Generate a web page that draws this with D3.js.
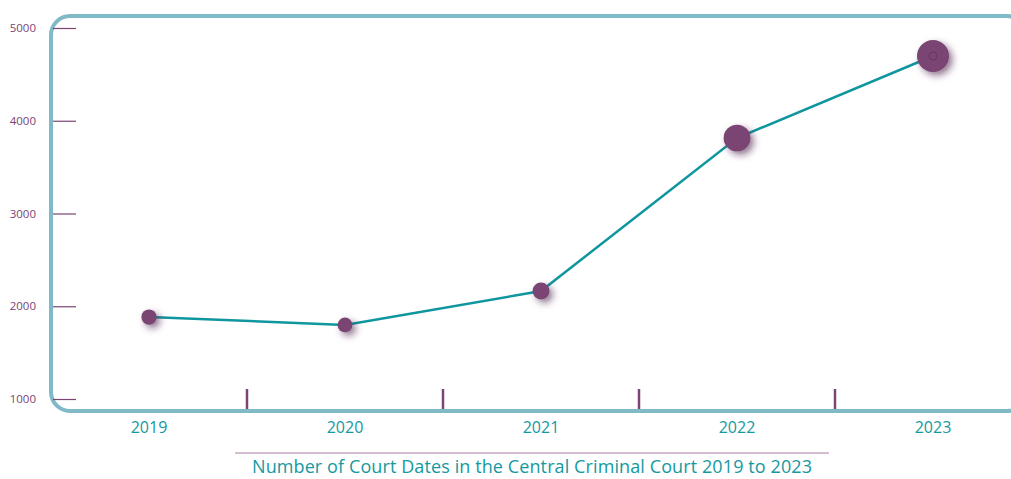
<!DOCTYPE html>
<html>
<head>
<meta charset="utf-8">
<script src="https://cdn.jsdelivr.net/npm/d3@7"></script>
<style>
  body { margin: 0; background: #fff; }
  svg { display: block; font-family: "Open Sans", sans-serif; }
</style>
</head>
<body>
<div id="chart"></div>
<script>
// data
const years = ["2019", "2020", "2021", "2022", "2023"];
const courtDates = [1884, 1798, 2164, 3814, 4698];
const yTicks = [1000, 2000, 3000, 4000, 5000];

const width = 1011, height = 479;
const purple = "#7b4473", teal = "#14999f", frame = "#7fbac6";

const svg = d3.select("#chart").append("svg")
    .attr("width", width)
    .attr("height", height);

const defs = svg.append("defs");
const f = defs.append("filter").attr("id", "shadow")
    .attr("x", "-80%").attr("y", "-80%").attr("width", "260%").attr("height", "260%");
f.append("feDropShadow")
    .attr("dx", 3.5).attr("dy", 3.5).attr("stdDeviation", 3.5)
    .attr("flood-color", "#4a2046").attr("flood-opacity", 0.6);

const xscale = d3.scaleBand()
    .domain(years)
    .range([51, 1031]);

const yscale = d3.scaleLinear()
    .domain([1000, 5000])
    .range([399, 28]);

const rscale = d3.scaleLinear()
    .domain([1000, d3.max(courtDates)])
    .range([5, 16]);

// frame
svg.append("rect")
    .attr("x", 51).attr("y", 16)
    .attr("width", 975).attr("height", 395)
    .attr("rx", 19)
    .attr("fill", "none")
    .attr("stroke", frame)
    .attr("stroke-width", 4);

// y axis
const yAxis = svg.append("g")
    .attr("transform", "translate(53,0)")
    .call(d3.axisRight(yscale).tickValues(yTicks).tickSize(23).tickFormat(d => d));
yAxis.select(".domain").remove();
yAxis.selectAll(".tick line").attr("stroke", purple).attr("stroke-width", 1.2);
yAxis.selectAll(".tick text")
    .attr("x", -17)
    .attr("text-anchor", "end")
    .attr("fill", purple)
    .attr("font-size", "11.5px")
    .attr("font-family", "Open Sans, sans-serif");

// x axis
const xAxis = svg.append("g")
    .attr("transform", "translate(0,409)")
    .call(d3.axisBottom(xscale).tickSize(0).tickPadding(13));
xAxis.select(".domain").remove();
xAxis.selectAll(".tick text")
    .attr("fill", teal)
    .attr("font-size", "16px")
    .attr("font-family", "Open Sans, sans-serif");

// separators between years
svg.append("g").selectAll("line")
    .data(years.slice(1))
    .join("line")
    .attr("x1", d => xscale(d)).attr("x2", d => xscale(d))
    .attr("y1", 389).attr("y2", 409)
    .attr("stroke", purple)
    .attr("stroke-width", 2.5);

// line
const line = d3.line()
    .x((d, i) => xscale(years[i]) + xscale.bandwidth() / 2)
    .y(d => yscale(d));

svg.append("path")
    .datum(courtDates)
    .attr("d", line)
    .attr("fill", "none")
    .attr("stroke", "#0f969e")
    .attr("stroke-width", 2.5);

// dots
svg.append("g").selectAll("circle")
    .data(courtDates)
    .join("circle")
    .attr("cx", (d, i) => xscale(years[i]) + xscale.bandwidth() / 2)
    .attr("cy", d => yscale(d))
    .attr("r", d => rscale(d))
    .attr("fill", "#7a4472")
    .attr("filter", "url(#shadow)");

// small mark inside last dot
svg.append("circle")
    .attr("cx", xscale(years[4]) + xscale.bandwidth() / 2)
    .attr("cy", yscale(courtDates[4]))
    .attr("r", 4)
    .attr("fill", "none")
    .attr("stroke", "#5a2c54")
    .attr("stroke-width", 0.6);

// title
svg.append("line")
    .attr("x1", 235).attr("x2", 829)
    .attr("y1", 453).attr("y2", 453)
    .attr("stroke", "#a77a9f")
    .attr("stroke-width", 1);

svg.append("text")
    .attr("x", 532)
    .attr("y", 473)
    .attr("text-anchor", "middle")
    .attr("fill", teal)
    .attr("font-size", "18px")
    .attr("textLength", 560)
    .attr("lengthAdjust", "spacing")
    .text("Number of Court Dates in the Central Criminal Court 2019 to 2023");
</script>
</body>
</html>
